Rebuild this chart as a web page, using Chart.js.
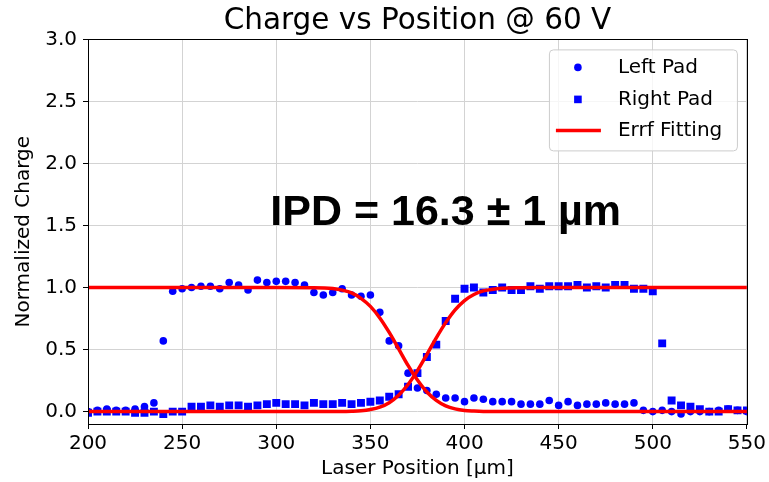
<!DOCTYPE html>
<html>
<head>
<meta charset="utf-8">
<script src="https://cdn.jsdelivr.net/npm/chart.js@4/dist/chart.umd.min.js"></script>
<style>
  html, body { margin: 0; padding: 0; background: #ffffff; }
  #wrap { width: 769px; height: 482px; }
</style>
</head>
<body>
<div id="wrap"><canvas id="chart" width="769" height="482"></canvas></div>
<script>
// Laser scan positions [µm]
const positions = [
  200, 205, 210, 215, 220, 225, 230, 235, 240, 245,
  250, 255, 260, 265, 270, 275, 280, 285, 290, 295,
  300, 305, 310, 315, 320, 325, 330, 335, 340, 345,
  350, 355, 360, 365, 370, 375, 380, 385, 390, 395,
  400, 405, 410, 415, 420, 425, 430, 435, 440, 445,
  450, 455, 460, 465, 470, 475, 480, 485, 490, 495,
  500, 505, 510, 515, 520, 525, 530, 535, 540, 545,
  550
];

// Normalized charge collected on the left pad
const leftPad = [
  0.00, 0.01, 0.02, 0.01, 0.01, 0.02, 0.04, 0.07, 0.57, 0.97,
  0.99, 1.00, 1.01, 1.01, 0.99, 1.04, 1.02, 0.98, 1.06, 1.04,
  1.05, 1.05, 1.04, 1.02, 0.96, 0.94, 0.96, 0.99, 0.94, 0.93,
  0.94, 0.80, 0.57, 0.53, 0.31, 0.19, 0.17, 0.14, 0.11, 0.11,
  0.08, 0.11, 0.10, 0.08, 0.08, 0.08, 0.06, 0.06, 0.06, 0.09,
  0.05, 0.08, 0.05, 0.06, 0.06, 0.07, 0.06, 0.06, 0.07, 0.01,
  0.00, 0.01, 0.00, -0.02, 0.00, 0.00, 0.00, 0.01, 0.02, 0.01,
  0.00
];

// Normalized charge collected on the right pad
const rightPad = [
  -0.01, 0.00, 0.00, 0.00, 0.00, -0.01, -0.01, 0.00, -0.02, 0.00,
  0.00, 0.04, 0.04, 0.05, 0.04, 0.05, 0.05, 0.04, 0.05, 0.06,
  0.07, 0.06, 0.06, 0.05, 0.07, 0.06, 0.06, 0.07, 0.06, 0.07,
  0.08, 0.09, 0.12, 0.14, 0.20, 0.31, 0.44, 0.54, 0.73, 0.91,
  0.99, 1.00, 0.96, 0.98, 1.00, 0.98, 0.98, 1.01, 0.99, 1.01,
  1.01, 1.01, 1.02, 1.00, 1.01, 1.00, 1.02, 1.02, 0.99, 0.99,
  0.97, 0.55, 0.09, 0.05, 0.04, 0.02, 0.00, 0.00, 0.02, 0.01,
  0.01
];

// Error-function fits sampled along the scan
const fitPositions = [
  200, 300, 320, 330, 335, 340, 345, 350, 355, 360,
  365, 370, 375, 380, 385, 390, 395, 400, 405, 410,
  420, 430, 440, 550
];
const leftFit = [
  1.000, 1.000, 0.999, 0.992, 0.979, 0.957, 0.913, 0.848, 0.755, 0.638,
  0.506, 0.372, 0.254, 0.158, 0.091, 0.046, 0.022, 0.009, 0.004, 0.001,
  0.000, 0.000, 0.000, 0.000
];
const rightFit = [
  0.000, 0.000, 0.000, 0.001, 0.001, 0.003, 0.007, 0.017, 0.036, 0.072,
  0.132, 0.218, 0.330, 0.460, 0.594, 0.717, 0.820, 0.895, 0.944, 0.973,
  0.995, 0.999, 1.000, 1.000
];

const xTicks = [200, 250, 300, 350, 400, 450, 500, 550];
const yTicks = [0.0, 0.5, 1.0, 1.5, 2.0, 2.5, 3.0];

const chartTitle = 'Charge vs Position @ 60 V';
const xTitle = 'Laser Position [µm]';
const yTitle = 'Normalized Charge';
const ipdText = 'IPD = 16.3 ± 1 µm';
const ipdAt = [390, 1.5];

const toPoints = (xs, ys) => xs.map((x, i) => ({ x: x, y: ys[i] }));

const BLUE = '#0000ff';
const RED = '#ff0000';
const FONT = 'DejaVu Sans';

// Black box around the plotting area
const framePlugin = {
  id: 'frame',
  afterDatasetsDraw(chart) {
    const { ctx, chartArea: a } = chart;
    ctx.save();
    ctx.strokeStyle = '#000000';
    ctx.lineWidth = 1;
    ctx.strokeRect(Math.round(a.left) + 0.5, Math.round(a.top) + 0.5,
                   Math.round(a.right - a.left), Math.round(a.bottom - a.top));
    ctx.restore();
  }
};

// Bold text placed at a data position
const ipdPlugin = {
  id: 'ipd',
  afterDatasetsDraw(chart) {
    const { ctx, scales } = chart;
    ctx.save();
    ctx.fillStyle = '#000000';
    ctx.font = 'bold 43px "Liberation Sans", Arial, sans-serif';
    ctx.textAlign = 'center';
    ctx.textBaseline = 'alphabetic';
    ctx.fillText(ipdText, scales.x.getPixelForValue(ipdAt[0]), scales.y.getPixelForValue(ipdAt[1]));
    ctx.restore();
  }
};

// Framed legend in the upper-right corner of the plot
const legendPlugin = {
  id: 'boxLegend',
  afterDraw(chart) {
    const { ctx, chartArea: a } = chart;
    const w = 188, h = 101;
    const x0 = a.right - 10 - w, y0 = a.top + 10;
    ctx.save();
    ctx.beginPath();
    ctx.roundRect(x0 + 0.5, y0 + 0.5, w, h, 4);
    ctx.fillStyle = 'rgba(255,255,255,0.8)';
    ctx.fill();
    ctx.strokeStyle = '#cccccc';
    ctx.lineWidth = 1;
    ctx.stroke();

    const mx = x0 + 29, tx = x0 + 69;
    const rows = [y0 + 18, y0 + 50, y0 + 81];
    const sets = chart.data.datasets;

    ctx.fillStyle = BLUE;
    ctx.beginPath();
    ctx.arc(mx, rows[0], 3.8, 0, Math.PI * 2);
    ctx.fill();
    ctx.fillRect(mx - 3.8, rows[1] - 3.8, 7.6, 7.6);

    ctx.strokeStyle = RED;
    ctx.lineWidth = 3.5;
    ctx.beginPath();
    ctx.moveTo(mx - 22, rows[2]);
    ctx.lineTo(mx + 23, rows[2]);
    ctx.stroke();

    ctx.fillStyle = '#000000';
    ctx.font = '20px "' + FONT + '"';
    ctx.textAlign = 'left';
    ctx.textBaseline = 'middle';
    ctx.fillText(sets[0].label, tx, rows[0]);
    ctx.fillText(sets[1].label, tx, rows[1]);
    ctx.fillText(sets[2].label, tx, rows[2]);
    ctx.restore();
  }
};

new Chart(document.getElementById('chart'), {
  type: 'scatter',
  data: {
    datasets: [
      {
        label: 'Left Pad',
        data: toPoints(positions, leftPad),
        pointStyle: 'circle',
        pointRadius: 3.8,
        backgroundColor: BLUE,
        borderColor: BLUE,
        borderWidth: 0,
        clip: 0,
        order: 2
      },
      {
        label: 'Right Pad',
        data: toPoints(positions, rightPad),
        pointStyle: 'rect',
        pointRadius: 5.6,
        backgroundColor: BLUE,
        borderColor: BLUE,
        borderWidth: 0,
        clip: 0,
        order: 2
      },
      {
        label: 'Errf Fitting',
        data: toPoints(fitPositions, leftFit),
        showLine: true,
        borderColor: RED,
        backgroundColor: RED,
        borderWidth: 3.5,
        pointRadius: 0,
        cubicInterpolationMode: 'monotone',
        fill: false,
        clip: 0,
        order: 1
      },
      {
        label: 'Errf Fitting (right pad)',
        data: toPoints(fitPositions, rightFit),
        showLine: true,
        borderColor: RED,
        backgroundColor: RED,
        borderWidth: 3.5,
        pointRadius: 0,
        cubicInterpolationMode: 'monotone',
        fill: false,
        clip: 0,
        order: 1
      }
    ]
  },
  options: {
    responsive: false,
    animation: false,
    devicePixelRatio: 1,
    layout: { padding: { left: 0, right: 21, top: 0, bottom: 0 } },
    plugins: {
      legend: { display: false },
      tooltip: { enabled: false },
      title: {
        display: true,
        fullSize: false,
        text: chartTitle,
        color: '#000000',
        font: { family: FONT, size: 29.5, weight: 'normal' },
        padding: { top: 4, bottom: 0 }
      }
    },
    scales: {
      x: {
        type: 'linear',
        min: 200,
        max: 550,
        afterBuildTicks: s => { s.ticks = xTicks.map(v => ({ value: v })); },
        afterFit: s => { s.height = 58; },
        ticks: {
          color: '#000000',
          font: { family: FONT, size: 20 },
          padding: 3,
          maxRotation: 0,
          callback: v => String(v)
        },
        grid: { color: '#d3d3d3', lineWidth: 1, tickColor: '#000000', tickLength: 5 },
        border: { display: false },
        title: {
          display: true,
          text: xTitle,
          color: '#000000',
          font: { family: FONT, size: 20 },
          padding: { top: 0, bottom: 1 }
        }
      },
      y: {
        type: 'linear',
        min: -0.1,
        max: 3.0,
        afterBuildTicks: s => { s.ticks = yTicks.map(v => ({ value: v })); },
        afterFit: s => { s.width = 88; },
        ticks: {
          color: '#000000',
          font: { family: FONT, size: 20 },
          padding: 6,
          callback: v => Number(v).toFixed(1)
        },
        grid: { color: '#d3d3d3', lineWidth: 1, tickColor: '#000000', tickLength: 5 },
        border: { display: false },
        title: {
          display: true,
          text: yTitle,
          color: '#000000',
          font: { family: FONT, size: 20 },
          padding: { top: 12, bottom: 0 }
        }
      }
    }
  },
  plugins: [framePlugin, ipdPlugin, legendPlugin]
});
</script>
</body>
</html>
